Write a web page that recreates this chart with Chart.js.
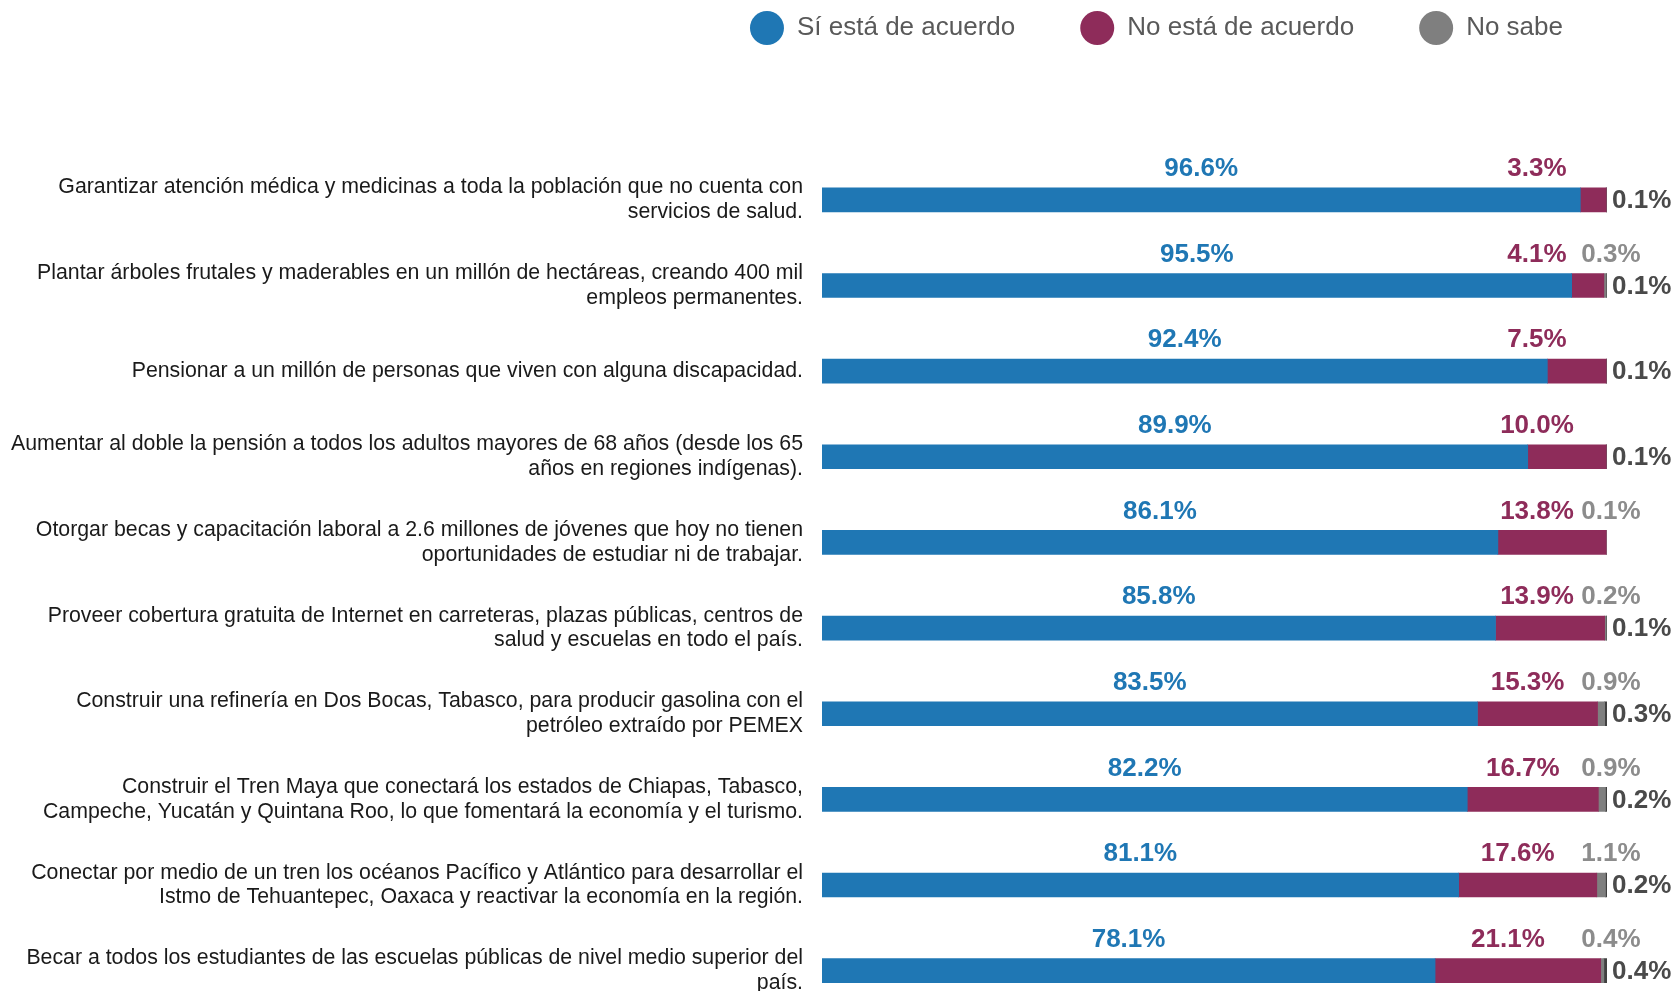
<!DOCTYPE html>
<html>
<head>
<meta charset="utf-8">
<script src="https://cdn.jsdelivr.net/npm/chart.js@4/dist/chart.umd.min.js"></script>
<style>
  html, body { margin: 0; padding: 0; background: #fff; overflow: hidden; }
  #wrap { position: absolute; left: 0; top: 0; width: 1675px; height: 1057px; }
</style>
</head>
<body>
<div id="wrap"><canvas id="chart1"></canvas></div>
<script>
// categories (one entry per bar, split in lines like the original)
const categories = [
  ["Garantizar atención médica y medicinas a toda la población que no cuenta con", "servicios de salud."],
  ["Plantar árboles frutales y maderables en un millón de hectáreas, creando 400 mil", "empleos permanentes."],
  ["Pensionar a un millón de personas que viven con alguna discapacidad."],
  ["Aumentar al doble la pensión a todos los adultos mayores de 68 años (desde los 65", "años en regiones indígenas)."],
  ["Otorgar becas y capacitación laboral a 2.6 millones de jóvenes que hoy no tienen", "oportunidades de estudiar ni de trabajar."],
  ["Proveer cobertura gratuita de Internet en carreteras, plazas públicas, centros de", "salud y escuelas en todo el país."],
  ["Construir una refinería en Dos Bocas, Tabasco, para producir gasolina con el", "petróleo extraído por PEMEX"],
  ["Construir el Tren Maya que conectará los estados de Chiapas, Tabasco,", "Campeche, Yucatán y Quintana Roo, lo que fomentará la economía y el turismo."],
  ["Conectar por medio de un tren los océanos Pacífico y Atlántico para desarrollar el", "Istmo de Tehuantepec, Oaxaca y reactivar la economía en la región."],
  ["Becar a todos los estudiantes de las escuelas públicas de nivel medio superior del", "país."]
];

// series values (%)
const siDeAcuerdo = [96.6, 95.5, 92.4, 89.9, 86.1, 85.8, 83.5, 82.2, 81.1, 78.1];
const noDeAcuerdo = [3.3, 4.1, 7.5, 10.0, 13.8, 13.9, 15.3, 16.7, 17.6, 21.1];
const noSabe      = [0, 0.3, 0, 0, 0.1, 0.2, 0.9, 0.9, 1.1, 0.4];
const noContesto  = [0.1, 0.1, 0.1, 0.1, 0, 0.1, 0.3, 0.2, 0.2, 0.4];

const seriesNames = ["Sí está de acuerdo", "No está de acuerdo", "No sabe", "No contestó"];

Chart.defaults.font.family = "'Liberation Sans', Arial, sans-serif";

const BLUE = '#1F77B4', MAG = '#8E2C5A', GRAY = '#7F7F7F', DARK = '#404040';

// value labels above / beside the bars
const valueLabels = {
  id: 'valueLabels',
  afterDatasetsDraw(chart) {
    const ctx = chart.ctx;
    const xs = chart.scales.x;
    const end = xs.getPixelForValue(100);
    ctx.save();
    ctx.font = "bold 26px 'Liberation Sans', Arial, sans-serif";
    ctx.textBaseline = 'middle';
    const fmt = v => v.toFixed(1) + '%';
    for (let i = 0; i < categories.length; i++) {
      const b0 = chart.getDatasetMeta(0).data[i];
      const b1 = chart.getDatasetMeta(1).data[i];
      const y = b0.y;
      // sí
      ctx.fillStyle = BLUE;
      ctx.textAlign = 'center';
      ctx.fillText(fmt(siDeAcuerdo[i]), (b0.base + b0.x) / 2, y - 31);
      // no
      ctx.fillStyle = MAG;
      let mx = Math.min((b1.base + b1.x) / 2 - 10, end - 70);
      ctx.fillText(fmt(noDeAcuerdo[i]), mx, y - 31);
      // no sabe
      if (noSabe[i] > 0) {
        ctx.fillStyle = '#8C8C8C';
        ctx.fillText(fmt(noSabe[i]), end + 4, y - 31);
      }
      // no contestó
      if (noContesto[i] > 0) {
        ctx.fillStyle = '#4A4A4A';
        ctx.textAlign = 'left';
        ctx.fillText(fmt(noContesto[i]), end + 5, y + 1);
      }
    }
    ctx.restore();
  }
};

// move the legend up / right, where the original has it
const legendPlace = {
  id: 'legendPlace',
  afterLayout(chart) {
    const lg = chart.legend;
    if (!lg) return;
    const dx = 21, dy = -106;
    lg.left += dx; lg.right += dx;
    lg.top += dy; lg.bottom += dy;
  }
};

const data = {
  labels: categories,
  datasets: [
    { label: seriesNames[0], data: siDeAcuerdo, backgroundColor: BLUE },
    { label: seriesNames[1], data: noDeAcuerdo, backgroundColor: MAG },
    { label: seriesNames[2], data: noSabe, backgroundColor: GRAY },
    { label: seriesNames[3], data: noContesto, backgroundColor: DARK }
  ]
};

const config = {
  type: 'bar',
  data: data,
  options: {
    indexAxis: 'y',
    responsive: true,
    maintainAspectRatio: false,
    animation: false,
    datasets: { bar: { barThickness: 24, borderWidth: 0 } },
    layout: { padding: { top: 56, right: 68, left: 0, bottom: 0 } },
    scales: {
      x: { stacked: true, min: 0, max: 100, display: false },
      y: {
        stacked: true,
        grid: { display: false, drawTicks: false },
        border: { display: false },
        ticks: {
          padding: 19,
          color: '#1a1a1a',
          font: { size: 21.3, lineHeight: 1.15 }
        },
        afterFit(scale) { scale.width = 822; }
      }
    },
    plugins: {
      tooltip: { enabled: false },
      legend: {
        position: 'top',
        align: 'end',
        labels: {
          usePointStyle: true,
          pointStyle: 'circle',
          boxHeight: 24,
          pointStyleWidth: 34,
          padding: 65,
          color: '#595959',
          font: { size: 26 },
          filter: item => item.datasetIndex < 3
        }
      }
    }
  },
  plugins: [valueLabels, legendPlace]
};

const myChart = new Chart(document.getElementById('chart1'), config);
</script>
</body>
</html>
